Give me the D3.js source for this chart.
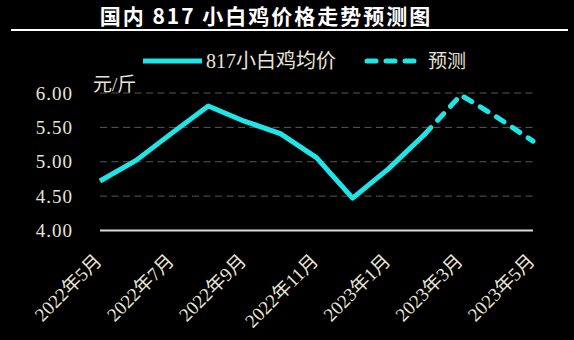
<!DOCTYPE html>
<html>
<head>
<meta charset="utf-8">
<script src="https://cdn.jsdelivr.net/npm/d3@7"></script>
<style>
  html, body { margin: 0; padding: 0; background: #000; }
  svg { display: block; }
</style>
</head>
<body>
<div id="chart"></div>
<script>
// Months on the category axis (one point per month)
var months = ['2022年5月', '2022年6月', '2022年7月', '2022年8月', '2022年9月', '2022年10月',
              '2022年11月', '2022年12月', '2023年1月', '2023年2月', '2023年3月', '2023年4月', '2023年5月'];
// Labels shown under the axis (every second month)
var tickLabels = ['2022年5月', '2022年7月', '2022年9月', '2022年11月', '2023年1月', '2023年3月', '2023年5月'];
// 817 broiler average price, yuan / jin
var actualMonths = months.slice(0, 10);
var actualValues = [4.72, 5.02, 5.42, 5.81, 5.59, 5.41, 5.06, 4.47, 4.90, 5.40];
// Forecast, starting from the last real value
var forecastMonths = months.slice(9);
var forecastValues = [5.40, 5.97, 5.65, 5.30];
var yTicks = [4.0, 4.5, 5.0, 5.5, 6.0];

var width = 574, height = 340;
var margins = {left: 100, right: 41, top: 93, bottom: 109.5};
var lineColor = '#1fe6e6';
var textColor = '#e8e4d8';
var fontFamily = '"Liberation Serif", "Noto Sans CJK SC", serif';

var svg = d3.select('#chart').append('svg')
            .attr('width', width)
            .attr('height', height)
            .style('background', '#000');

var x = d3.scalePoint()
          .domain(months)
          .range([margins.left, width - margins.right]);
var y = d3.scaleLinear()
          .domain([4, 6])
          .range([height - margins.bottom, margins.top]);

// Title and the rule under it
svg.append('text')
   .attr('x', 266)
   .attr('y', 24)
   .attr('text-anchor', 'middle')
   .attr('fill', '#fff')
   .attr('font-size', 21)
   .attr('font-weight', 'bold')
   .attr('letter-spacing', 2)
   .style('font-family', '"Noto Sans CJK SC", sans-serif')
   .text('国内 817 小白鸡价格走势预测图');

svg.append('line')
   .attr('x1', 11).attr('x2', 568)
   .attr('y1', 30).attr('y2', 30)
   .attr('stroke', '#fff')
   .attr('stroke-width', 2);

// Gridlines
var grid = svg.append('g').classed('grid', true);
grid.selectAll('line')
    .data(yTicks.filter(function(d) { return d > 4; }))
    .enter()
    .append('line')
    .attr('x1', margins.left)
    .attr('x2', width - margins.right)
    .attr('y1', function(d) { return y(d); })
    .attr('y2', function(d) { return y(d); })
    .attr('stroke', '#595959')
    .attr('stroke-width', 1)
    .attr('stroke-dasharray', '7,4.5');

// Base line at 4.00
svg.append('line')
   .attr('x1', margins.left)
   .attr('x2', width - margins.right)
   .attr('y1', y(4)).attr('y2', y(4))
   .attr('stroke', '#d9d9d9')
   .attr('stroke-width', 2);

// Y tick labels
svg.append('g')
   .selectAll('text')
   .data(yTicks)
   .enter()
   .append('text')
   .attr('x', 73)
   .attr('y', function(d) { return y(d); })
   .attr('dy', '0.35em')
   .attr('text-anchor', 'end')
   .attr('fill', textColor)
   .attr('font-size', 19)
   .attr('letter-spacing', 1)
   .style('font-family', fontFamily)
   .text(function(d) { return d.toFixed(2); });

// Unit
svg.append('text')
   .attr('x', 93)
   .attr('y', 91)
   .attr('fill', textColor)
   .attr('font-size', 19)
   .style('font-family', fontFamily)
   .text('元/斤');

// X tick labels, rotated
svg.append('g')
   .selectAll('text')
   .data(tickLabels)
   .enter()
   .append('text')
   .attr('transform', function(d) {
     return 'translate(' + (x(d) + 3) + ',' + 262 + ') rotate(-45)';
   })
   .attr('text-anchor', 'end')
   .attr('fill', textColor)
   .attr('font-size', 19)
   .style('font-family', fontFamily)
   .text(function(d) { return d; });

// Series lines
var line = d3.line()
             .x(function(d) { return x(d[0]); })
             .y(function(d) { return y(d[1]); });

svg.append('path')
   .attr('d', line(d3.zip(actualMonths, actualValues)))
   .attr('fill', 'none')
   .attr('stroke', lineColor)
   .attr('stroke-width', 5)
   .attr('stroke-linejoin', 'round');

svg.append('path')
   .attr('d', line(d3.zip(forecastMonths, forecastValues)))
   .attr('fill', 'none')
   .attr('stroke', lineColor)
   .attr('stroke-width', 5)
   .attr('stroke-linecap', 'round')
   .attr('stroke-dasharray', '9,10');

// Legend
var legend = svg.append('g').classed('legend', true);
legend.append('line')
      .attr('x1', 143).attr('x2', 202)
      .attr('y1', 61).attr('y2', 61)
      .attr('stroke', lineColor)
      .attr('stroke-width', 5);
legend.append('text')
      .attr('x', 206).attr('y', 68)
      .attr('fill', textColor)
      .attr('font-size', 20)
      .style('font-family', fontFamily)
      .text('817小白鸡均价');
legend.append('line')
      .attr('x1', 367).attr('x2', 416)
      .attr('y1', 61).attr('y2', 61)
      .attr('stroke', lineColor)
      .attr('stroke-width', 5)
      .attr('stroke-linecap', 'round')
      .attr('stroke-dasharray', '9,10');
legend.append('text')
      .attr('x', 428).attr('y', 68)
      .attr('fill', textColor)
      .attr('font-size', 19)
      .style('font-family', fontFamily)
      .text('预测');
</script>
</body>
</html>
